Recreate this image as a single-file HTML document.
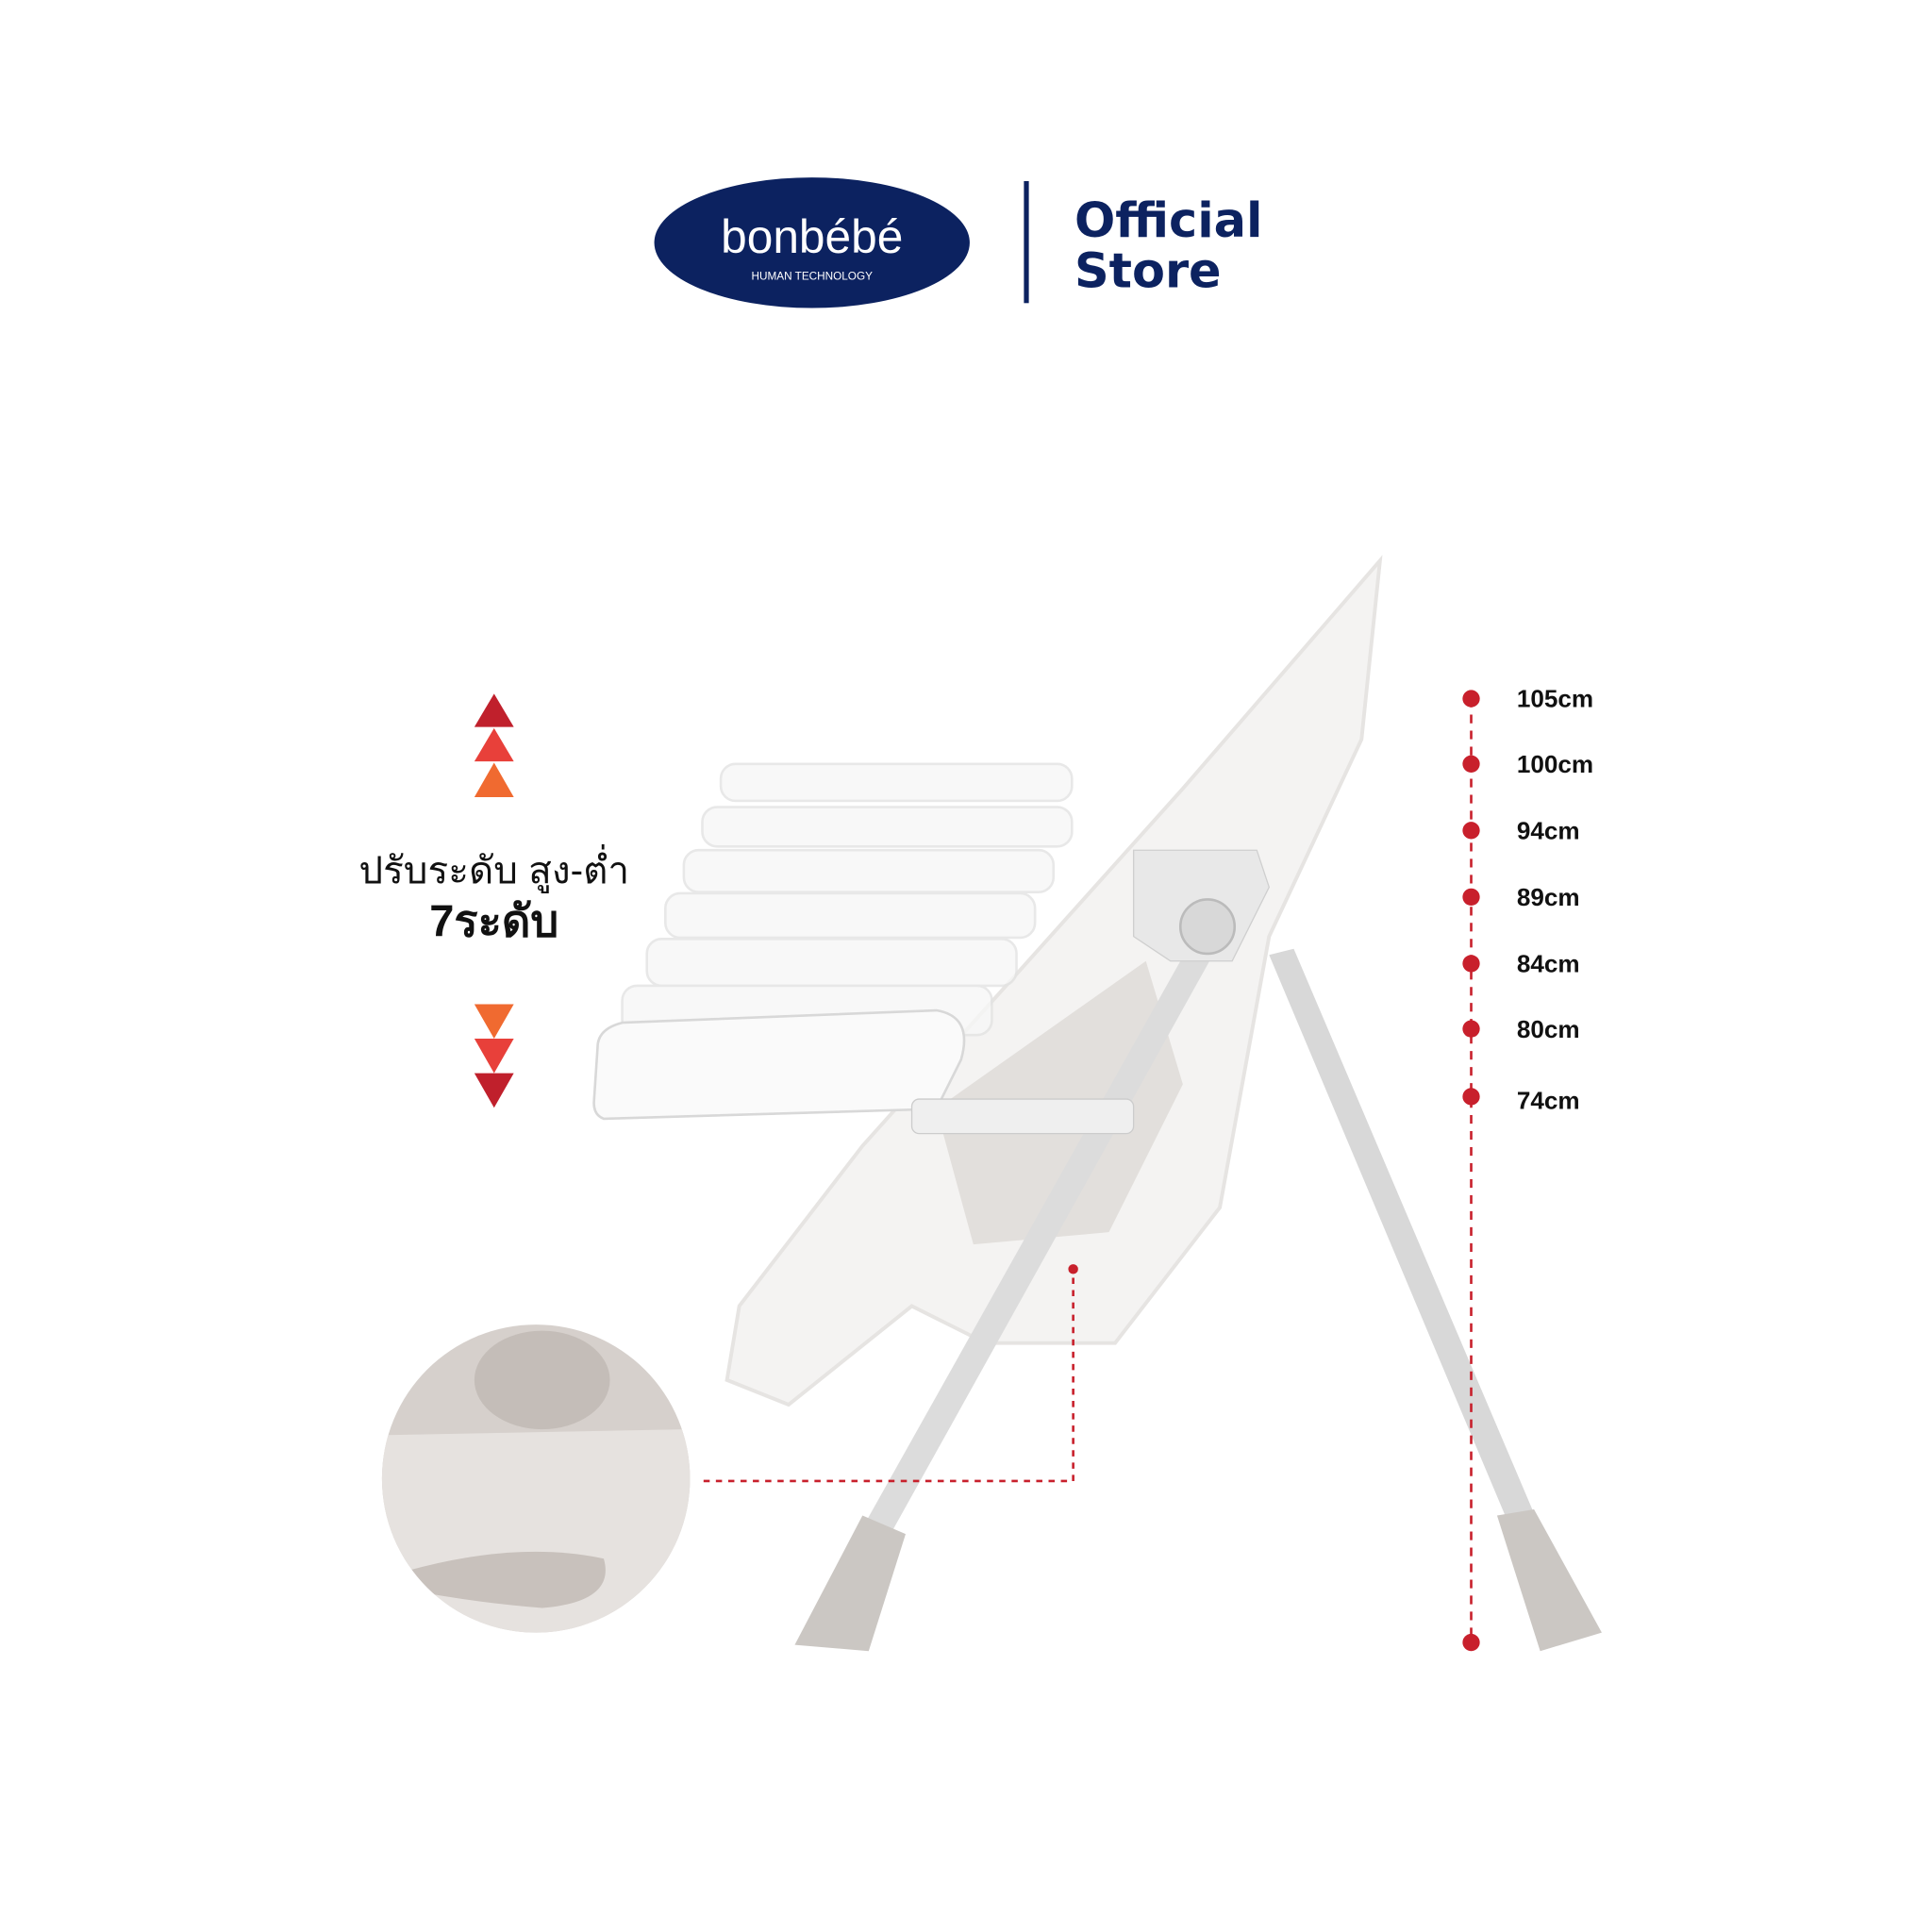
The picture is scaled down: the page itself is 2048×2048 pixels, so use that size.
<!DOCTYPE html>
<html><head><meta charset="utf-8"><style>html,body{margin:0;padding:0;background:#fff}svg{display:block}</style></head>
<body>
<svg width="2048" height="2048" viewBox="0 0 1568 1568" xmlns="http://www.w3.org/2000/svg">
<defs><clipPath id="c"><circle cx="435" cy="1200" r="125"/></clipPath></defs>
<rect width="1568" height="1568" fill="#fff"/>
<!-- logo -->
<ellipse cx="659" cy="197" rx="128" ry="53" fill="#0c2260"/>
<text x="659" y="205" text-anchor="middle" font-family="Liberation Sans, sans-serif" font-size="38" fill="#fff">bonbébé</text>
<text x="659" y="227" text-anchor="middle" font-family="Liberation Sans, sans-serif" font-size="9" fill="#fff">HUMAN  TECHNOLOGY</text>
<rect x="831" y="147" width="4" height="99" fill="#0c2260"/>
<text x="872" y="192" font-family="DejaVu Sans, sans-serif" font-weight="bold" font-size="39" fill="#0c2260">Official</text>
<text x="872" y="233" font-family="DejaVu Sans, sans-serif" font-weight="bold" font-size="39" fill="#0c2260">Store</text>
<!-- triangles -->
<polygon points="401,563 385,590 417,590" fill="#c0202c"/>
<polygon points="401,591 385,618 417,618" fill="#e8403a"/>
<polygon points="401,619 385,647 417,647" fill="#f06a30"/>
<polygon points="385,815 417,815 401,843" fill="#f06a30"/>
<polygon points="385,843 417,843 401,871" fill="#e8403a"/>
<polygon points="385,871 417,871 401,899" fill="#c0202c"/>
<text x="401" y="717" text-anchor="middle" font-family="Liberation Sans, Noto Sans CJK SC, sans-serif" font-size="31" fill="#111">ปรับระดับ สูง-ต่ำ</text>
<text x="401" y="760" text-anchor="middle" font-family="Liberation Sans, Noto Sans CJK SC, sans-serif" font-weight="bold" font-size="36" fill="#111">7ระดับ</text>
<!-- chair backrest -->
<path d="M1120,455 L1105,600 L1030,760 L990,980 L905,1090 L800,1090 L740,1060 L640,1140 L590,1120 L600,1060 L700,930 L960,640 Z" fill="#f4f3f2" stroke="#e6e4e2" stroke-width="3"/>
<path d="M760,900 L930,780 L960,880 L900,1000 L790,1010 Z" fill="#e2dfdc"/>
<!-- legs -->
<path d="M972,755 L990,765 L720,1250 L700,1240 Z" fill="#dcdcdc"/>
<path d="M1030,775 L1050,770 L1250,1240 L1230,1250 Z" fill="#d8d8d8"/>
<path d="M700,1230 L735,1245 L705,1340 L645,1335 Z" fill="#cbc7c3"/>
<path d="M1215,1230 L1245,1225 L1300,1325 L1250,1340 Z" fill="#cbc7c3"/>
<path d="M920,690 L1020,690 L1030,720 L1000,780 L950,780 L920,760 Z" fill="#e8e8e8" stroke="#cfcfcf"/>
<circle cx="980" cy="752" r="22" fill="#d8d8d8" stroke="#bbb" stroke-width="2"/>
<!-- trays -->
<g fill="#f7f7f7" stroke="#e3e3e3" stroke-width="2" opacity="0.8">
<rect x="585" y="620" width="285" height="30" rx="12"/>
<rect x="570" y="655" width="300" height="32" rx="12"/>
<rect x="555" y="690" width="300" height="34" rx="12"/>
<rect x="540" y="725" width="300" height="36" rx="12"/>
<rect x="525" y="762" width="300" height="38" rx="12"/>
<rect x="505" y="800" width="300" height="40" rx="12"/>
</g>
<path d="M485,850 Q485,835 505,830 L760,820 Q790,825 780,860 L760,900 L490,908 Q482,905 482,895 Z" fill="#fafafa" stroke="#d8d8d8" stroke-width="2"/>
<rect x="740" y="892" width="180" height="28" rx="6" fill="#efefef" stroke="#ccc"/>
<!-- inset circle -->
<g clip-path="url(#c)">
<rect x="300" y="1070" width="270" height="270" fill="#d6d0cc"/>
<path d="M300,1165 L558,1160 L570,1160 L570,1340 L300,1340 Z" fill="#e6e2df"/>
<path d="M330,1275 Q420,1250 490,1265 Q500,1300 440,1305 Q380,1300 330,1290 Z" fill="#c8c1bc"/>
<ellipse cx="440" cy="1120" rx="55" ry="40" fill="#c4bdb8"/>
</g>
<!-- dashed connectors -->
<path d="M571,1202 L871,1202 L871,1030" fill="none" stroke="#c8202c" stroke-width="2" stroke-dasharray="5,5"/>
<circle cx="871" cy="1030" r="4" fill="#c8202c"/>
<line x1="1194" y1="567" x2="1194" y2="1333" stroke="#c8202c" stroke-width="2" stroke-dasharray="7,6"/>
<g fill="#c8202c">
<circle cx="1194" cy="567" r="7"/><circle cx="1194" cy="620" r="7"/><circle cx="1194" cy="674" r="7"/><circle cx="1194" cy="728" r="7"/><circle cx="1194" cy="782" r="7"/><circle cx="1194" cy="835" r="7"/><circle cx="1194" cy="890" r="7"/><circle cx="1194" cy="1333" r="7"/>
</g>
<g font-family="Liberation Sans, sans-serif" font-weight="bold" font-size="20" fill="#111">
<text x="1231" y="574">105cm</text><text x="1231" y="627">100cm</text><text x="1231" y="681">94cm</text><text x="1231" y="735">89cm</text><text x="1231" y="789">84cm</text><text x="1231" y="842">80cm</text><text x="1231" y="900">74cm</text>
</g>
</svg>
</body></html>
